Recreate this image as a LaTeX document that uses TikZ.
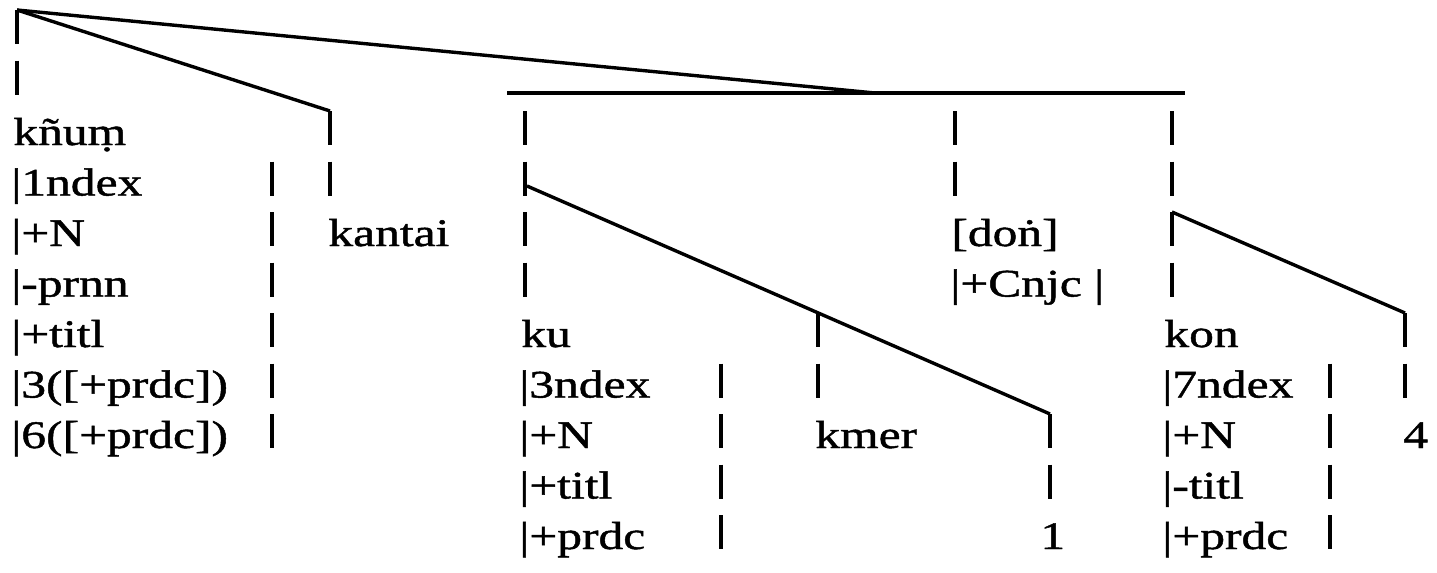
\documentclass[tikz,border=0pt]{standalone}
\usepackage{fontspec}
\setmainfont{Liberation Serif}[FakeStretch=1.27,FakeBold=1.2]
\newcommand{\rowb}[1]{145+50.5*#1}
\tikzset{%
  word/.style   = {anchor=base west, inner sep=0pt,%
                   font=\fontsize{19.5}{24}\selectfont},%
  branch/.style = {line width=1.7pt, line join=miter},%
  stem/.style   = {line width=1.7pt, dash pattern=on 17pt off 8.25pt}%
}

\begin{document}
\begin{tikzpicture}[x=0.5pt,y=-0.5pt]
	\useasboundingbox (0,0) rectangle (1437,573);
	% top of the tree
	\coordinate (apex) at (17,10);
	\coordinate (kaTop) at (330,111);
	\coordinate (join) at (875,93);
	\coordinate (barL) at (507,93);
	\coordinate (barR) at (1185,93);
	\draw[branch] (apex) -- (join);
	\draw[branch] (apex) -- (kaTop);
	\draw[branch] (barL) -- (barR);
	% left word and its features
	\node[word] (knum) at (13,\rowb{0}) {k\~nu\d{m}};
	\foreach \t [count=\i] in {{|1ndex},{|+N},{|-prnn},{|+titl},{|3([+prdc])},{|6([+prdc])}}
		\node[word] (fA\i) at (11,\rowb{\i}) {\t};
	\draw[stem] (apex) -- (17,\rowb{-1});
	\draw[stem] (272,\rowb{1}-34) -- (272,\rowb{6});
	\node[word] (kantai) at (328,\rowb{2}) {kantai};
	\draw[branch] (kaTop) -- (330,\rowb{0});
	\draw[stem] (330,\rowb{1}-34) -- (330,\rowb{1});
	% ku
	\coordinate (kuTop) at (525,111);
	\coordinate (kuFork) at (527,186);
	\coordinate (oneTop) at (1050,\rowb{6}-34);
	\node[word] (ku) at (521,\rowb{4}) {ku};
	\foreach \t [count=\i from 5] in {{|3ndex},{|+N},{|+titl},{|+prdc}}
		\node[word] (fK\i) at (519,\rowb{\i}) {\t};
	\draw[stem] (kuTop) -- (525,\rowb{3});
	\draw[branch] (kuFork) -- (oneTop);
	\draw[stem] (721,\rowb{5}-34) -- (721,\rowb{8});
	% kmer and 1
	\coordinate (kmTop) at (818,\rowb{4}-34);
	\node[word] (kmer) at (815,\rowb{6}) {kmer};
	\draw[stem] (kmTop) -- (818,\rowb{5});
	\draw[stem] (oneTop) -- (1050,\rowb{7});
	\node[word] (one) at (1040,\rowb{8}) {1};
	% don
	\coordinate (doTop) at (955,111);
	\node[word] (don) at (951,\rowb{2}) {[do\.{n}]};
	\node[word] (cnjc) at (950,\rowb{3}) {|+Cnjc |};
	\draw[stem] (doTop) -- (955,\rowb{1});
	% kon
	\coordinate (koTop) at (1172,111);
	\coordinate (koFork) at (1172,\rowb{2}-34);
	\coordinate (fourTop) at (1405,\rowb{4}-34);
	\node[word] (kon) at (1164,\rowb{4}) {kon};
	\foreach \t [count=\i from 5] in {{|7ndex},{|+N},{|-titl},{|+prdc}}
		\node[word] (fO\i) at (1162,\rowb{\i}) {\t};
	\draw[stem] (koTop) -- (1172,\rowb{3});
	\draw[branch] (koFork) -- (fourTop);
	\draw[stem] (1330,\rowb{5}-34) -- (1330,\rowb{8});
	\draw[stem] (fourTop) -- (1405,\rowb{5});
	\node[word] (four) at (1403,\rowb{6}) {4};
\end{tikzpicture}
\end{document}
